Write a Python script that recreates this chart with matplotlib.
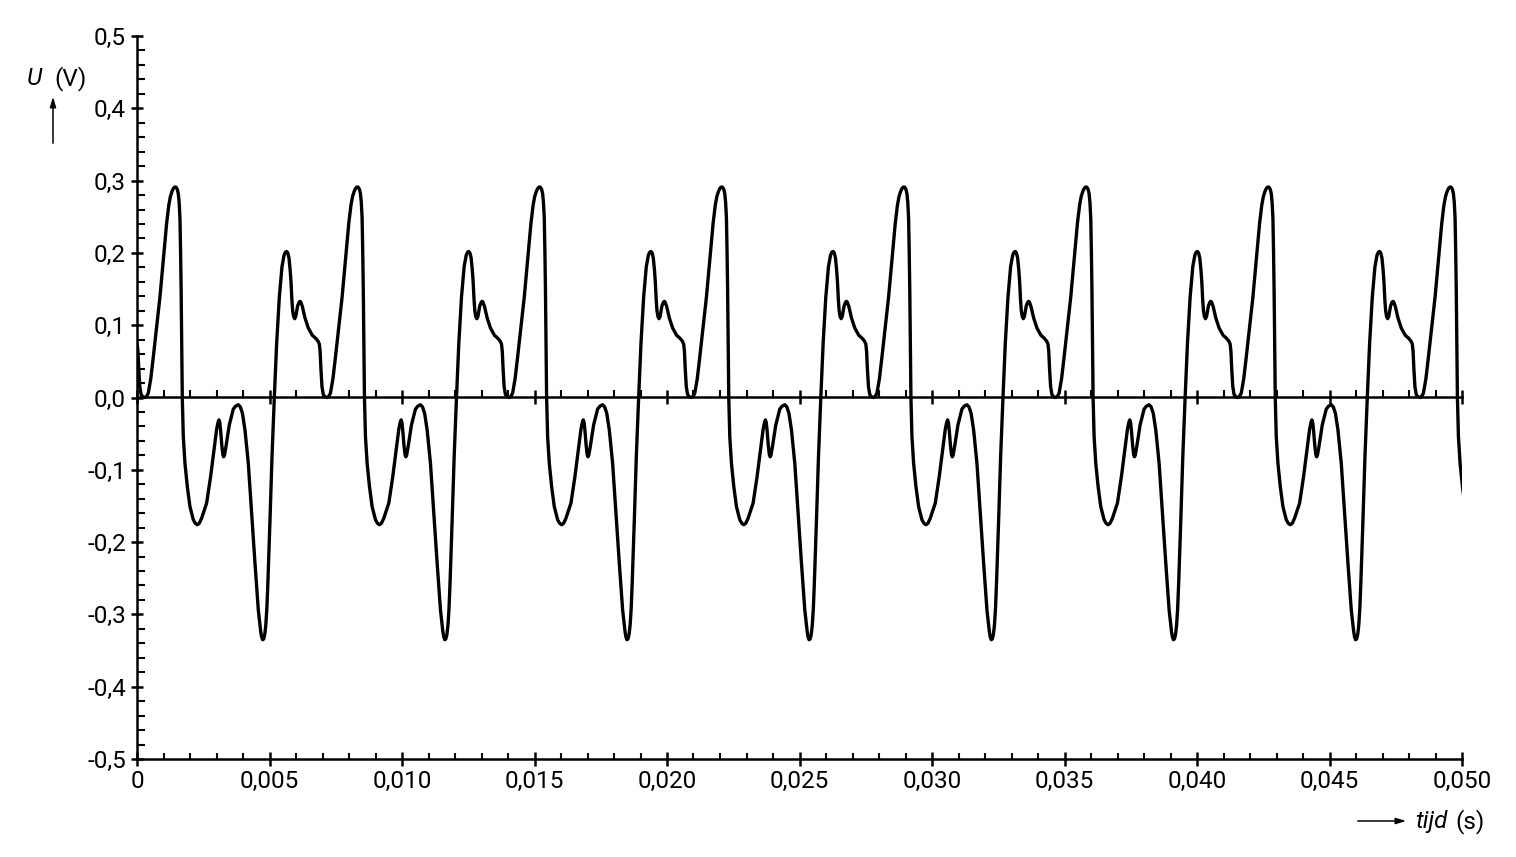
import matplotlib
matplotlib.use('Agg')
import matplotlib.pyplot as plt
from matplotlib.ticker import MultipleLocator

plt.rcParams['font.family'] = ['Roboto', 'DejaVu Sans']

# one period of the signal
# time in ms, counted from the dip near zero just before the big peak
phase_ms = [0.000, 0.060, 0.126, 0.220, 0.315, 0.440, 0.566, 0.692, 0.818, 0.900,
            0.960, 1.020, 1.070, 1.120, 1.170, 1.220, 1.258, 1.290, 1.321, 1.345,
            1.365, 1.385, 1.409, 1.447, 1.510, 1.598, 1.699, 1.824, 1.900, 1.975,
            2.050, 2.139, 2.328, 2.479, 2.604, 2.705, 2.760, 2.793, 2.825, 2.856,
            2.900, 2.940, 2.969, 3.000, 3.057, 3.183, 3.334, 3.420, 3.523, 3.600,
            3.680, 3.775, 3.900, 4.026, 4.152, 4.278, 4.366, 4.400, 4.440, 4.480,
            4.520, 4.560, 4.600, 4.640, 4.718, 4.794, 4.882, 4.970, 5.071, 5.171,
            5.250, 5.300, 5.347, 5.390, 5.435, 5.480, 5.511, 5.545, 5.574, 5.610,
            5.650, 5.690, 5.763, 5.820, 5.851, 5.880, 5.939, 6.040, 6.165, 6.316,
            6.440, 6.530, 6.580, 6.610, 6.640, 6.680, 6.730, 6.800]
volts = [0.000, 0.0015, 0.006, 0.026, 0.056, 0.098, 0.139, 0.190, 0.241, 0.266,
         0.278, 0.285, 0.289, 0.291, 0.291, 0.288, 0.282, 0.270, 0.248, 0.200,
         0.150, 0.085, 0.000, -0.054, -0.091, -0.123, -0.151, -0.169, -0.174, -0.176,
         -0.174, -0.167, -0.146, -0.109, -0.073, -0.044, -0.034, -0.031, -0.035, -0.046,
         -0.066, -0.079, -0.082, -0.080, -0.068, -0.038, -0.016, -0.012, -0.010, -0.013,
         -0.022, -0.045, -0.091, -0.160, -0.229, -0.294, -0.323, -0.331, -0.335, -0.334,
         -0.328, -0.315, -0.292, -0.255, -0.170, -0.082, 0.000, 0.075, 0.139, 0.181,
         0.197, 0.201, 0.202, 0.200, 0.193, 0.176, 0.160, 0.135, 0.120, 0.112,
         0.109, 0.112, 0.127, 0.132, 0.133, 0.132, 0.126, 0.110, 0.096, 0.086,
         0.082, 0.078, 0.074, 0.064, 0.040, 0.015, 0.004, 0.0008]
period_ms = 6.874
first_dip_ms = 0.30
periods = range(-1, 8)

x_ticks = [0.0, 0.005, 0.010, 0.015, 0.020, 0.025, 0.030, 0.035, 0.040, 0.045, 0.050]
x_ticklabels = ['0', '0,005', '0,010', '0,015', '0,020', '0,025', '0,030', '0,035',
                '0,040', '0,045', '0,050']
y_ticks = [-0.5, -0.4, -0.3, -0.2, -0.1, 0.0, 0.1, 0.2, 0.3, 0.4, 0.5]
y_ticklabels = ['-0,5', '-0,4', '-0,3', '-0,2', '-0,1', '0,0', '0,1', '0,2', '0,3',
                '0,4', '0,5']

t = []
u = []
for k in periods:
    for p, v in zip(phase_ms, volts):
        t.append((first_dip_ms + k * period_ms + p) / 1000)
        u.append(v)

fig = plt.figure(figsize=(15.16, 8.57), dpi=100)
ax = fig.add_axes([137 / 1516, 1 - 759 / 857, 1325 / 1516, 723 / 857])

ax.plot(t, u, color='black', lw=2.4, solid_joinstyle='round')
ax.set_xlim(0, 0.05)
ax.set_ylim(-0.5, 0.5)

ax.spines['top'].set_visible(False)
ax.spines['right'].set_visible(False)
ax.spines['left'].set_linewidth(1.8)
ax.spines['bottom'].set_linewidth(1.8)

ax.set_xticks(x_ticks)
ax.set_xticklabels(x_ticklabels)
ax.set_yticks(y_ticks)
ax.set_yticklabels(y_ticklabels)
ax.xaxis.set_minor_locator(MultipleLocator(0.001))
ax.yaxis.set_minor_locator(MultipleLocator(0.02))
ax.tick_params(axis='y', which='major', direction='inout', length=8, width=1.8,
               pad=4, labelsize=17.5)
ax.tick_params(axis='y', which='minor', direction='in', length=6, width=1.5)
ax.tick_params(axis='x', which='major', direction='inout', length=9.8, width=1.8,
               pad=3, labelsize=17.5)
ax.tick_params(axis='x', which='minor', direction='in', length=4.5, width=1.5)

# the zero line with its own ticks
zero = ax.secondary_xaxis(0.5)
zero.set_xticks(x_ticks)
zero.xaxis.set_minor_locator(MultipleLocator(0.001))
zero.spines['top'].set_linewidth(1.8)
zero.tick_params(which='major', direction='inout', length=10.5, width=1.8,
                 labeltop=False, labelbottom=False)
zero.tick_params(which='minor', direction='out', length=5.3, width=1.5)

# axis titles with arrows
arrow = dict(arrowstyle='-|>,head_length=0.6,head_width=0.18', lw=1.1, color='black')
fig.text(27 / 1516, 1 - 85 / 857, 'U', fontsize=17.5, style='italic')
fig.text(54 / 1516, 1 - 85 / 857, '(V)', fontsize=17.5)
ax.annotate('', xy=(53 / 1516, 1 - 94 / 857), xytext=(53 / 1516, 1 - 146 / 857),
            xycoords='figure fraction', textcoords='figure fraction', arrowprops=arrow)
fig.text(1415 / 1516, 1 - 828 / 857, 'tijd', fontsize=17.5, style='italic')
fig.text(1455 / 1516, 1 - 828 / 857, '(s)', fontsize=17.5)
ax.annotate('', xy=(1409 / 1516, 1 - 821 / 857), xytext=(1355 / 1516, 1 - 821 / 857),
            xycoords='figure fraction', textcoords='figure fraction', arrowprops=arrow)

fig.savefig('out.png', dpi=100)
